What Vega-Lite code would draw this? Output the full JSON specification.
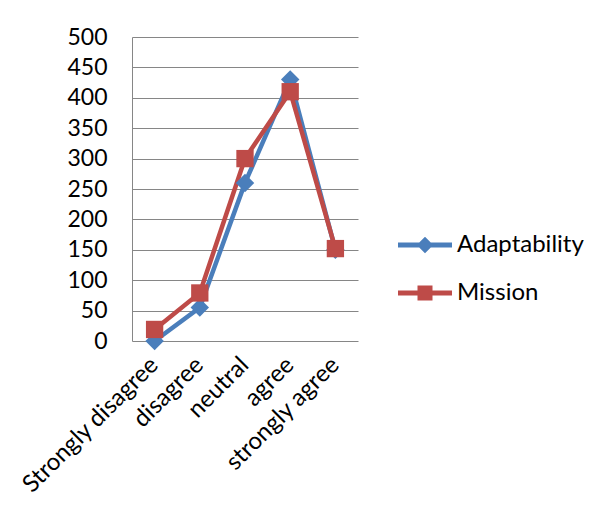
{
  "$schema": "https://vega.github.io/schema/vega-lite/v6.json",
  "width": 226,
  "height": 304,
  "autosize": {"type": "none"},
  "padding": {"left": 132, "top": 37, "right": 250, "bottom": 188},
  "background": "white",
  "config": {
    "view": {"stroke": null},
    "font": "Lato"
  },
  "data": {
    "values": [
      {"category": "Strongly disagree", "series": "Adaptability", "value": 0},
      {"category": "disagree", "series": "Adaptability", "value": 55},
      {"category": "neutral", "series": "Adaptability", "value": 260},
      {"category": "agree", "series": "Adaptability", "value": 430},
      {"category": "strongly agree", "series": "Adaptability", "value": 150},
      {"category": "Strongly disagree", "series": "Mission", "value": 19},
      {"category": "disagree", "series": "Mission", "value": 79},
      {"category": "neutral", "series": "Mission", "value": 300},
      {"category": "agree", "series": "Mission", "value": 410},
      {"category": "strongly agree", "series": "Mission", "value": 152}
    ]
  },
  "encoding": {
    "x": {
      "field": "category",
      "type": "nominal",
      "sort": ["Strongly disagree", "disagree", "neutral", "agree", "strongly agree"],
      "scale": {"type": "band", "paddingInner": 0, "paddingOuter": 0},
      "axis": {
        "title": null,
        "labelAngle": -45,
        "labelAlign": "right",
        "labelBaseline": "middle",
        "labelFontSize": 24,
        "labelColor": "#000000",
        "labelPadding": 20,
        "labelLimit": 400,
        "ticks": false,
        "domain": false,
        "grid": false
      }
    },
    "y": {
      "field": "value",
      "type": "quantitative",
      "scale": {"domain": [0, 500], "nice": false},
      "axis": {
        "title": null,
        "values": [0, 50, 100, 150, 200, 250, 300, 350, 400, 450, 500],
        "labelFontSize": 23,
        "labelColor": "#000000",
        "labelPadding": 25,
        "ticks": false,
        "domain": true,
        "domainColor": "#868686",
        "gridColor": "#868686",
        "gridWidth": 1,
        "gridOpacity": 1
      }
    },
    "color": {
      "field": "series",
      "type": "nominal",
      "scale": {"domain": ["Adaptability", "Mission"], "range": ["#4A7EBB", "#BE4B48"]},
      "legend": {
        "title": null,
        "orient": "none",
        "legendX": 278,
        "legendY": 193,
        "padding": 0,
        "symbolSize": 900,
        "rowPadding": 21,
        "labelOffset": 17,
        "labelFontSize": 24,
        "labelColor": "#000000",
        "labelLimit": 300,
        "encode": {
          "symbols": {
            "update": {
              "shape": {"signal": "datum.value === 'Adaptability' ? 'M-1.8,-0.16H1.8V0.16H-1.8Z M0,-0.55L0.55,0L0,0.55L-0.55,0Z' : 'M-1.8,-0.16H1.8V0.16H-1.8Z M-0.5,-0.5H0.5V0.5H-0.5Z'"},
              "fill": {"signal": "datum.value === 'Adaptability' ? '#4A7EBB' : '#BE4B48'"},
              "stroke": {"value": "transparent"},
              "strokeWidth": {"value": 0},
              "opacity": {"value": 1}
            }
          }
        }
      }
    }
  },
  "layer": [
    {
      "mark": {"type": "line", "strokeWidth": 4.5},
      "encoding": {"detail": {"field": "series"}}
    },
    {
      "transform": [{"filter": "datum.series === 'Adaptability'"}],
      "mark": {"type": "point", "filled": true, "opacity": 1, "shape": "diamond", "size": 340}
    },
    {
      "transform": [{"filter": "datum.series === 'Mission'"}],
      "mark": {"type": "point", "filled": true, "opacity": 1, "shape": "square", "size": 300}
    }
  ]
}
